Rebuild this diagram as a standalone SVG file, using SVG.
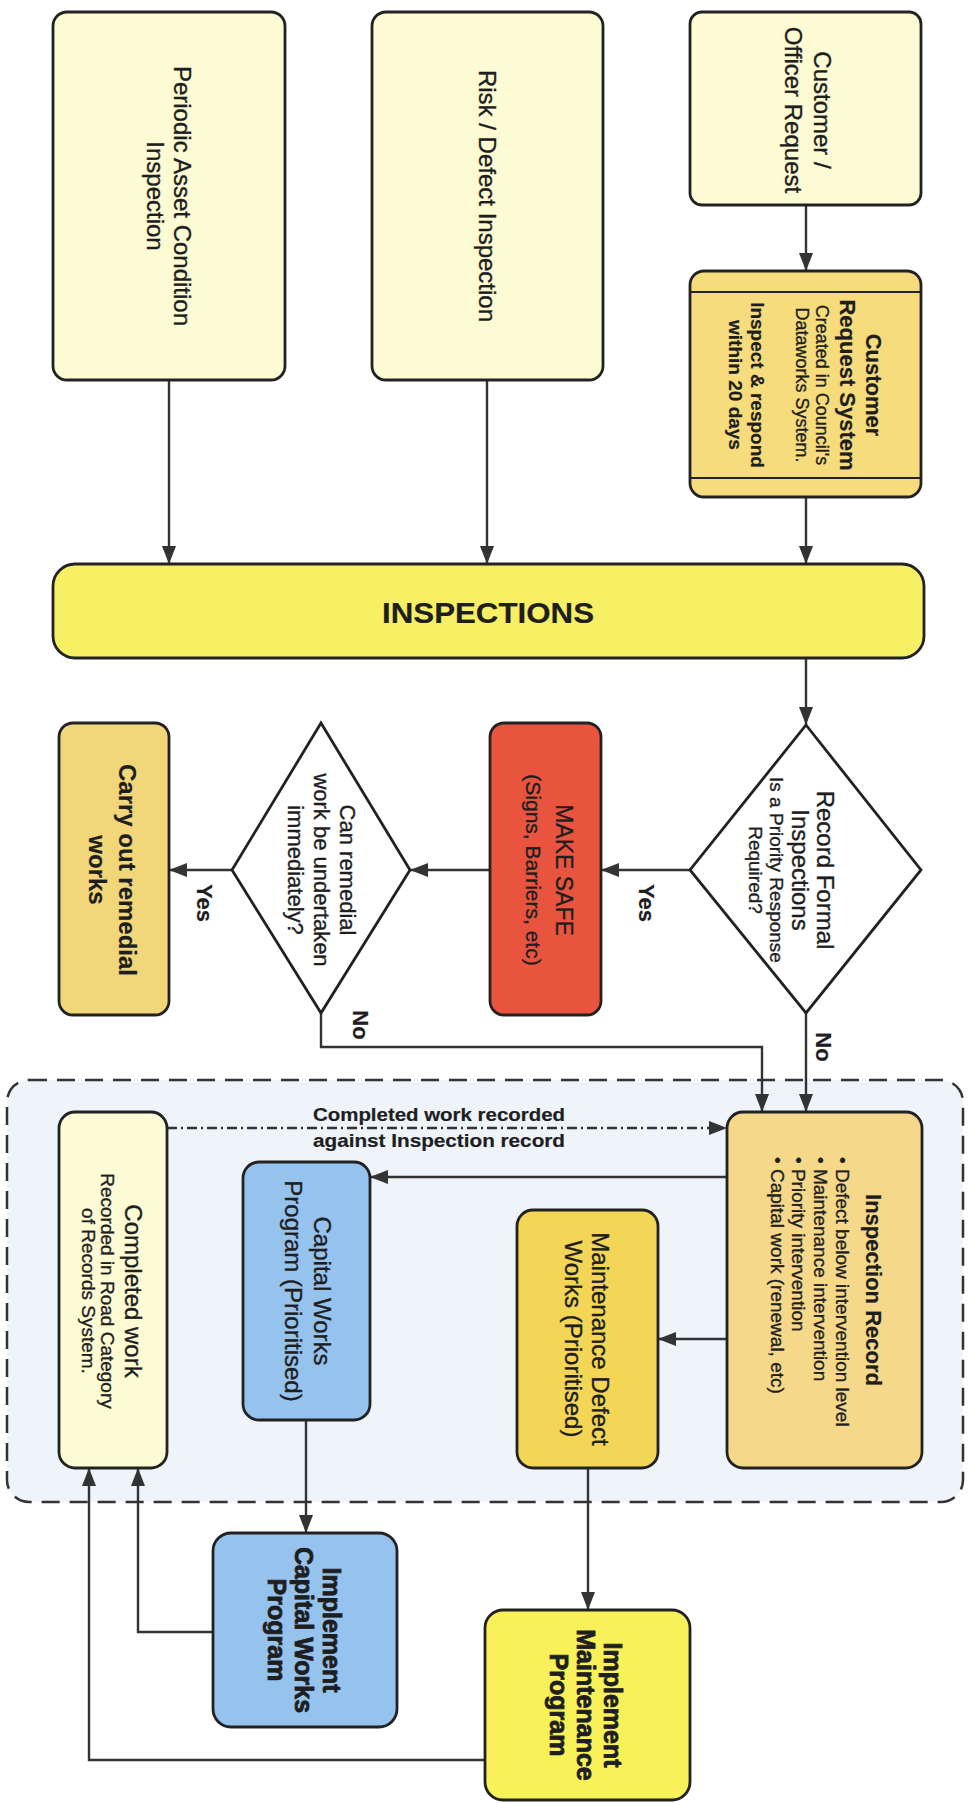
<svg xmlns="http://www.w3.org/2000/svg" width="972" height="1803" viewBox="0 0 972 1803">
<defs>
<marker id="ah" viewBox="0 0 18 14" refX="18" refY="7" markerWidth="18" markerHeight="14" markerUnits="userSpaceOnUse" orient="auto"><path d="M0,0 L18,7 L0,14 z" fill="#333"/></marker>
</defs>
<style>
.box{stroke:#222;stroke-width:2.8}
.c{stroke:#333;stroke-width:2.4;fill:none}
text{font-family:"Liberation Sans",Arial,sans-serif;fill:#1e1e1e;stroke:#1e1e1e;stroke-width:0.35}
.r{text-anchor:middle;dominant-baseline:central}
.s{dominant-baseline:central}
.b{font-weight:bold;stroke-width:0.2}
.hv{font-weight:bold;stroke-width:0.8}
</style>
<rect width="972" height="1803" fill="#fff"/>

<g id="container">
<rect x="7" y="1080" width="956" height="422" rx="22" fill="#eef4fa" stroke="#333" stroke-width="2.5" stroke-dasharray="18 10"/>
</g>

<g id="connectors">
<path class="c" d="M806,205 V271" marker-end="url(#ah)"/>
<path class="c" d="M806,497 V564" marker-end="url(#ah)"/>
<path class="c" d="M487,380 V564" marker-end="url(#ah)"/>
<path class="c" d="M169,380 V564" marker-end="url(#ah)"/>
<path class="c" d="M806,658 V725" marker-end="url(#ah)"/>
<path class="c" d="M690,870 H601" marker-end="url(#ah)"/>
<path class="c" d="M490,870 H410" marker-end="url(#ah)"/>
<path class="c" d="M232,870 H169" marker-end="url(#ah)"/>
<path class="c" d="M321,1013 V1047 H762 V1112" marker-end="url(#ah)"/>
<path class="c" d="M806,1013 V1112" marker-end="url(#ah)"/>
<path class="c" d="M727,1177 H370" marker-end="url(#ah)"/>
<path class="c" d="M727,1339 H658" marker-end="url(#ah)"/>
<path class="c" d="M167,1128 H727" stroke-width="1.8" stroke-dasharray="10 4 2 4" marker-end="url(#ah)"/>
<path class="c" d="M306,1420 V1533" marker-end="url(#ah)"/>
<path class="c" d="M588,1468 V1610" marker-end="url(#ah)"/>
<path class="c" d="M213,1632 H138 V1468" marker-end="url(#ah)"/>
<path class="c" d="M485,1760 H89 V1468" marker-end="url(#ah)"/>
<text class="b" font-size="22" x="646" y="903" transform="rotate(90 646 903)" text-anchor="middle" dominant-baseline="central">Yes</text>
<text class="b" font-size="22" x="204" y="903" transform="rotate(90 204 903)" text-anchor="middle" dominant-baseline="central">Yes</text>
<text class="b" font-size="22" x="360" y="1025" transform="rotate(90 360 1025)" text-anchor="middle" dominant-baseline="central">No</text>
<text class="b" font-size="22" x="823" y="1047" transform="rotate(90 823 1047)" text-anchor="middle" dominant-baseline="central">No</text>
<text class="b" font-size="19" x="439" y="1121" text-anchor="middle" textLength="252" lengthAdjust="spacingAndGlyphs">Completed work recorded</text>
<text class="b" font-size="19" x="439" y="1147" text-anchor="middle" textLength="252" lengthAdjust="spacingAndGlyphs">against Inspection record</text>
</g>

<g id="customer-request">
<rect class="box" x="690" y="12" width="231" height="193" rx="12" fill="#fdfbd4"/>
<text class="r" font-size="24" x="822" y="110" transform="rotate(90 822 110)">Customer /</text>
<text class="r" font-size="24" x="793" y="110" transform="rotate(90 793 110)">Officer Request</text>
</g>

<g id="customer-request-system">
<rect class="box" x="690" y="271" width="231" height="226" rx="14" fill="#f6dc7c"/>
<path d="M690,292 H921 M690,478 H921" stroke="#222" stroke-width="2"/>
<text class="r b" font-size="22" x="873" y="385" transform="rotate(90 873 385)">Customer</text>
<text class="r b" font-size="22" x="847" y="385" transform="rotate(90 847 385)">Request System</text>
<text class="r" font-size="18" x="822" y="385" transform="rotate(90 822 385)">Created in Council's</text>
<text class="r" font-size="18" x="802" y="385" transform="rotate(90 802 385)">Dataworks System.</text>
<text class="r b" font-size="19" x="757" y="385" transform="rotate(90 757 385)">Inspect &amp; respond</text>
<text class="r b" font-size="19" x="735" y="385" transform="rotate(90 735 385)">within 20 days</text>
</g>

<g id="risk-defect">
<rect class="box" x="372" y="12" width="231" height="368" rx="14" fill="#fdfbd4"/>
<text class="r" font-size="24" x="487" y="196" transform="rotate(90 487 196)">Risk / Defect Inspection</text>
</g>

<g id="periodic">
<rect class="box" x="53" y="12" width="232" height="368" rx="14" fill="#fdfbd4"/>
<text class="r" font-size="24" x="182" y="196" transform="rotate(90 182 196)">Periodic Asset Condition</text>
<text class="r" font-size="24" x="155" y="196" transform="rotate(90 155 196)">Inspection</text>
</g>

<g id="inspections">
<rect class="box" x="53" y="564" width="871" height="94" rx="22" fill="#f8f064"/>
<text class="r b" font-size="30" x="488" y="612" textLength="212" lengthAdjust="spacingAndGlyphs">INSPECTIONS</text>
</g>

<g id="record-formal">
<polygon class="box" points="806,725 921,870 806,1013 690,870" fill="#fff"/>
<text class="r" font-size="24" x="825" y="870" transform="rotate(90 825 870)">Record Formal</text>
<text class="r" font-size="24" x="800" y="870" transform="rotate(90 800 870)">Inspections</text>
<text class="r" font-size="19" x="776" y="870" transform="rotate(90 776 870)">Is a Priority Response</text>
<text class="r" font-size="19" x="755" y="870" transform="rotate(90 755 870)">Required?</text>
</g>

<g id="make-safe">
<rect class="box" x="490" y="723" width="111" height="292" rx="14" fill="#e9543f"/>
<text class="r" font-size="23" x="564" y="870" transform="rotate(90 564 870)">MAKE SAFE</text>
<text class="r" font-size="21" x="533" y="870" transform="rotate(90 533 870)">(Signs, Barriers, etc)</text>
</g>

<g id="can-remedial">
<polygon class="box" points="321,723 410,870 321,1013 232,870" fill="#fff"/>
<text class="r" font-size="22" x="347" y="870" transform="rotate(90 347 870)">Can remedial</text>
<text class="r" font-size="22" x="321" y="870" transform="rotate(90 321 870)">work be undertaken</text>
<text class="r" font-size="22" x="295" y="870" transform="rotate(90 295 870)">immediately?</text>
</g>

<g id="carry-out">
<rect class="box" x="59" y="723" width="110" height="292" rx="14" fill="#f2d67a"/>
<text class="r b" font-size="24" x="127" y="870" transform="rotate(90 127 870)">Carry out remedial</text>
<text class="r b" font-size="24" x="97" y="870" transform="rotate(90 97 870)">works</text>
</g>

<g id="inspection-record">
<rect class="box" x="727" y="1112" width="195" height="356" rx="16" fill="#f5d88a"/>
<text class="r b" font-size="22" x="873" y="1290" transform="rotate(90 873 1290)">Inspection Record</text>
<text class="s" font-size="19" x="842" y="1157" transform="rotate(90 842 1157)">• Defect below intervention level</text>
<text class="s" font-size="19" x="820" y="1157" transform="rotate(90 820 1157)">• Maintenance intervention</text>
<text class="s" font-size="19" x="798" y="1157" transform="rotate(90 798 1157)">• Priority intervention</text>
<text class="s" font-size="19" x="777" y="1157" transform="rotate(90 777 1157)">• Capital work (renewal, etc)</text>
</g>

<g id="maintenance-defect">
<rect class="box" x="517" y="1210" width="141" height="258" rx="16" fill="#f3d655"/>
<text class="r" font-size="24" x="600" y="1339" transform="rotate(90 600 1339)">Maintenance Defect</text>
<text class="r" font-size="24" x="573" y="1339" transform="rotate(90 573 1339)">Works (Prioritised)</text>
</g>

<g id="capital-works">
<rect class="box" x="243" y="1162" width="127" height="258" rx="16" fill="#96c3ee"/>
<text class="r" font-size="24" x="322" y="1291" transform="rotate(90 322 1291)">Capital Works</text>
<text class="r" font-size="24" x="293" y="1291" transform="rotate(90 293 1291)">Program (Prioritised)</text>
</g>

<g id="completed-work">
<rect class="box" x="59" y="1112" width="108" height="356" rx="16" fill="#fdfbd4"/>
<text class="r" font-size="24" x="133" y="1291" transform="rotate(90 133 1291)">Completed work</text>
<text class="r" font-size="19" x="107" y="1291" transform="rotate(90 107 1291)">Recorded in Road Category</text>
<text class="r" font-size="19" x="88" y="1291" transform="rotate(90 88 1291)">of Records System.</text>
</g>

<g id="implement-capital">
<rect class="box" x="213" y="1533" width="184" height="194" rx="18" fill="#96c3ee"/>
<text class="r hv" font-size="25" x="332" y="1630" transform="rotate(90 332 1630)">Implement</text>
<text class="r hv" font-size="25" x="304" y="1630" transform="rotate(90 304 1630)">Capital Works</text>
<text class="r hv" font-size="25" x="277" y="1630" transform="rotate(90 277 1630)">Program</text>
</g>

<g id="implement-maintenance">
<rect class="box" x="485" y="1610" width="205" height="190" rx="18" fill="#f9f15a"/>
<text class="r hv" font-size="25" x="613" y="1705" transform="rotate(90 613 1705)">Implement</text>
<text class="r hv" font-size="25" x="586" y="1705" transform="rotate(90 586 1705)">Maintenance</text>
<text class="r hv" font-size="25" x="559" y="1705" transform="rotate(90 559 1705)">Program</text>
</g>
</svg>
